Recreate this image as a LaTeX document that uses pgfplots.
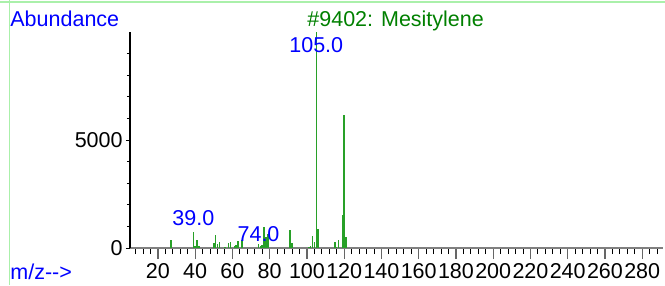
\documentclass[border=0pt]{standalone}
\usepackage{fontspec}
\setmainfont{Liberation Sans}
\usepackage{pgfplots}
\usepackage{pgfplotstable}
\pgfplotsset{compat=1.18}
\definecolor{pkgreen}{RGB}{40,160,40}
\definecolor{ttlgreen}{RGB}{0,128,0}
\definecolor{lblblue}{RGB}{0,0,255}
\definecolor{framegreen}{RGB}{170,240,170}
\pgfplotstableread{
mz ab
27 370
39 740
40 100
41 370
42 100
50 240
51 600
52 200
53 280
56 60
58 250
59 290
61 80
62 120
63 330
65 390
74 190
75 100
76 150
77 950
78 500
79 650
91 850
92 230
101 50
102 100
103 560
104 280
105 9999
106 880
115 290
116 60
117 370
119 1530
120 6160
121 510
}\spectrum
\begin{document}
\begin{tikzpicture}[font=\fontsize{10.75}{12}\selectfont]
\path[use as bounding box] (0,0) rectangle (332.5pt,142.5pt);
\draw[framegreen, line width=0.9pt] (0,141.6pt) -- (332.5pt,141.6pt);
\draw[framegreen, line width=0.9pt] (4.75pt,0) -- (4.75pt,142.5pt);
\node[anchor=base west, text=lblblue, inner sep=0pt] at (5pt,129.5pt) {Abundance};
\node[anchor=base west, text=ttlgreen, inner sep=0pt] at (153.5pt,129.5pt) {\#9402: Mesitylene};
\node[anchor=base west, text=lblblue, inner sep=0pt] at (5pt,3pt) {m/z{-}{-}>};
\begin{axis}[
  at={(65pt,18.5pt)}, anchor=south west,
  scale only axis, width=266.35pt, height=108pt,
  xmin=5, xmax=291, ymin=0, ymax=10000,
  clip=false,
  hide y axis,
  axis x line*=bottom,
  x axis line style={-, gray, line width=0.6pt},
  xtick={20,40,...,280},
  minor xtick={8,12,16,24,28,32,36,44,48,52,56,64,68,72,76,84,88,92,96,104,108,112,116,124,128,132,136,144,148,152,156,164,168,172,176,184,188,192,196,204,208,212,216,224,228,232,236,244,248,252,256,264,268,272,276,284,288},
  tick align=outside,
  major tick length=5.5pt, minor tick length=3pt,
  major x tick style={gray!80!black, line width=0.6pt},
  minor x tick style={black, line width=0.5pt},
  xticklabel style={inner sep=0pt, anchor=north, yshift=-2pt},
  scaled x ticks=false,
  /pgf/number format/assume math mode=true,
  /pgf/number format/1000 sep={},
]
\addplot[ycomb, pkgreen, line width=0.75pt, mark=none] table[x=mz, y=ab] {\spectrum};
\node[anchor=base, text=lblblue, inner sep=0pt] at (axis cs:105,9074) {105.0};
\node[anchor=base, text=lblblue, inner sep=0pt] at (axis cs:39,1019) {39.0};
\node[anchor=base, text=lblblue, inner sep=0pt] at (axis cs:74,278) {74.0};
\end{axis}
\begin{axis}[
  at={(65pt,18.5pt)}, anchor=south west,
  scale only axis, width=266.35pt, height=108pt,
  xmin=5, xmax=291, ymin=0, ymax=10000,
  hide x axis,
  axis y line*=left,
  y axis line style={-, black, line width=0.6pt},
  ytick={0,5000},
  minor ytick={1000,2000,3000,4000,6000,7000,8000,9000},
  scaled y ticks=false,
  tick align=outside,
  major tick length=2pt, minor tick length=1.5pt,
  major y tick style={black, line width=0.5pt},
  minor y tick style={black, line width=0.4pt},
  yticklabel style={inner sep=0pt, anchor=east, xshift=-1.5pt},
  /pgf/number format/assume math mode=true,
  /pgf/number format/1000 sep={},
]
\end{axis}
\end{tikzpicture}
\end{document}
